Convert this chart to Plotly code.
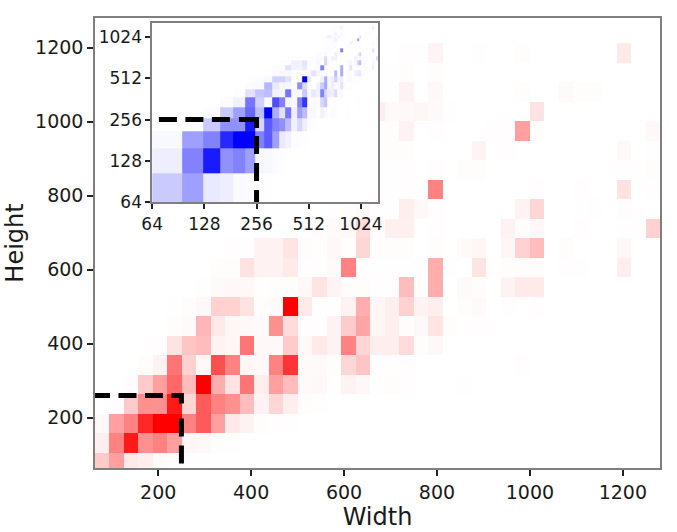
import plotly.graph_objects as go

W, H = 677, 532
L, R, T, B = 94.5, 660, 18, 468.5   # main plot frame in window pixels

# Bin edges shared by the main plot and the inset
x_edges = [64 + 1216 / 39 * k for k in range(40)]
y_edges = [64, 105] + [105 + 52.7 * k for k in range(1, 23)] + [1280]

# Bin density (0-100), one list per row from the bottom row upward
r00 = [25,40,12,10,4,3,1,1]
r01 = [10,50,90,45,50,40,6,5,3,1]
r02 = [5,40,50,85,100,100,50,65,40,12,8,3,2,1]
r03 = [0,2,25,45,45,90,20,65,50,45,30,8,20,10,3,1]
r04 = [0,0,3,25,40,60,30,100,35,15,55,10,40,30,4,5,2,8,5,1,3,2,0,0,0,1]
r05 = [0,0,0,3,8,55,22,5,70,50,6,5,50,80,4,4,3,20,27,2,2,2,0,0,0,0,0,0,0,2]
r06 = [0,0,0,0,2,15,27,30,8,6,55,5,5,25,5,12,8,50,20,10,10,18,3,5]
r07 = [0,0,0,0,0,3,4,32,12,6,5,4,45,18,2,2,8,25,38,6,10,3,5,14,3,0,2]
r08 = [0,0,0,0,0,1,3,5,22,22,15,3,4,100,12,1,1,8,35,6,10,22,8,10,0,3,4,0,2,0,2]
r09 = [0,0,0,0,0,0,0,1,4,5,5,2,3,3,5,14,7,3,3,2,1,30,1,35,0,4,3,0,8,12,12]
r10 = [0,0,0,0,0,0,0,0,3,3,15,8,8,12,2,2,4,50,2,1,1,1,1,35,1,0,14,2,3,3,3,0,2,1,0,0,10]
r11 = [0,0,0,0,0,0,0,0,0,2,2,8,8,14,3,2,5,2,20,3,3,3,0,3,0,4,6,0,6,22,30,0,3,0,0,0,6]
r12 = [0,0,0,0,0,0,0,0,0,0,0,0,0,0,0,3,4,5,18,3,9,9,0,2,0,0,0,0,8,3,5,0,0,2,0,0,2,0,22]
r13 = [0,0,0,0,0,0,0,0,0,0,0,0,0,0,0,0,2,3,5,2,1,10,5,2,0,0,0,0,0,8,20,0,0,0,2,0,3]
r14 = [0,0,0,0,0,0,0,0,0,0,0,0,0,0,0,0,0,1,2,3,1,2,0,50,0,0,0,0,0,0,2,0,0,2,0,0,15,0,2]
r15 = [0,0,0,0,0,0,0,0,0,0,0,0,0,0,0,0,0,0,1,2,1,2,0,2,0,3,3,0,0,0,0,0,0,0,0,0,2,0,3]
r16 = [0,0,0,0,0,0,0,0,0,0,0,0,0,0,0,0,0,0,1,1,3,3,0,0,0,0,7,0,2,0,0,0,0,0,0,0,5,0,1]
r17 = [0,0,0,0,0,0,0,0,0,0,0,0,0,0,0,0,0,0,1,2,3,8,0,2,0,0,0,2,2,40,3,0,0,0,0,0,0,0,5]
r18 = [0,0,0,0,0,0,0,0,0,0,0,0,0,0,0,0,0,0,3,10,4,5,6,4,2,0,0,0,0,0,15]
r19 = [0,0,0,0,0,0,0,0,0,0,0,0,0,0,0,0,0,0,0,1,1,8,0,5,0,0,0,0,0,3,0,0,4,3,3]
r20 = [0,0,0,0,0,0,0,0,0,0,0,0,0,0,0,0,0,0,0,1,1,3,0,3]
r21 = [0,0,0,0,0,0,0,0,0,0,0,0,0,0,0,0,0,0,0,0,0,2,2,7,0,0,1,0,0,3,0,0,0,0,0,0,12]
r22 = [0]
r23 = [0]
rows = [r00,r01,r02,r03,r04,r05,r06,r07,r08,r09,r10,r11,r12,r13,r14,r15,r16,r17,r18,r19,r20,r21,r22,r23]
z = [r + [0] * (39 - len(r)) for r in rows]

tick_main = [200, 400, 600, 800, 1000, 1200]
tick_inset = [64, 128, 256, 512, 1024]

main_box_x = [64, 250, 250]
main_box_y = [260, 260, 64]
inset_box_x = [70, 256, 256]
inset_box_y = [256, 256, 64]

FONT = "DejaVu Sans"
def dx(a, b): return [(a - L) / (R - L), (b - L) / (R - L)]
def dy(top, bot): return [(B - bot) / (B - T), (B - top) / (B - T)]

reds = [[0, "#ffffff"], [0.03, "#fffcfc"], [0.1, "#ffeeee"], [0.25, "#ffcaca"], [0.5, "#ff8282"], [1, "#ff0000"]]
blues = [[0, "#ffffff"], [0.03, "#fcfcff"], [0.1, "#eeeeff"], [0.25, "#cacaff"], [0.5, "#8282ff"], [1, "#0000ff"]]

fig = go.Figure()
fig.add_trace(go.Heatmap(x=x_edges, y=y_edges, z=z, zmin=0, zmax=100, showscale=False,
                         colorscale=reds, xaxis="x", yaxis="y"))
fig.add_trace(go.Scatter(x=main_box_x, y=main_box_y, mode="lines", showlegend=False, xaxis="x", yaxis="y",
                         line=dict(color="black", width=5,
                                   dash="15px,8.5px,18px,8.5px,18px,8.5px,18px,15px,18px,9px,18px,9px")))
fig.add_trace(go.Heatmap(x=x_edges, y=y_edges, z=z, zmin=0, zmax=100, showscale=False,
                         colorscale=blues, xaxis="x2", yaxis="y2"))
fig.add_trace(go.Scatter(x=inset_box_x, y=inset_box_y, mode="lines", showlegend=False, xaxis="x2", yaxis="y2",
                         line=dict(color="black", width=5,
                                   dash="18px,8.5px,18px,8.5px,18px,9px,26px,8px,18px,9px,18px,9px,18px")))

axis_common = dict(showgrid=False, zeroline=False, showline=True, mirror=True, linecolor="#7f7f7f", linewidth=1.5,
                   ticks="outside", tickcolor="#222222", tickwidth=2, ticklen=6,
                   tickfont=dict(family=FONT, size=19, color="#1a1a1a"))
inset_common = {**axis_common, "tickfont": dict(family=FONT, size=17, color="#1a1a1a"), "ticklen": 5, "automargin": False}
title_font = dict(family=FONT, size=24, color="#1a1a1a")

fig.update_layout(
    width=W, height=H, autosize=False,
    margin=dict(l=L, r=W - R, t=T, b=H - B, pad=0),
    paper_bgcolor="white", plot_bgcolor="white", showlegend=False,
    xaxis=dict(domain=[0, 1], range=[64, 1280], tickvals=tick_main, anchor="y",
               title=dict(text="Width", font=title_font, standoff=0), automargin=True, **axis_common),
    yaxis=dict(domain=[0, 1], range=[64, 1280], tickvals=tick_main, anchor="x",
               title=dict(text="Height", font=title_font, standoff=5), automargin=True, **axis_common),
    xaxis2=dict(domain=dx(151.7, 377.5), type="log", range=[1.80618, 3.10721], tickvals=tick_inset,
                ticktext=[str(v) for v in tick_inset], anchor="y2", **inset_common),
    yaxis2=dict(domain=dy(23.3, 202.7), type="log", range=[1.80618, 3.10721], tickvals=tick_inset,
                ticktext=[str(v) for v in tick_inset], anchor="x2", **inset_common),
)
fig.write_html("out.html", config=dict(displayModeBar=False), post_script="document.body.style.margin='0';")
